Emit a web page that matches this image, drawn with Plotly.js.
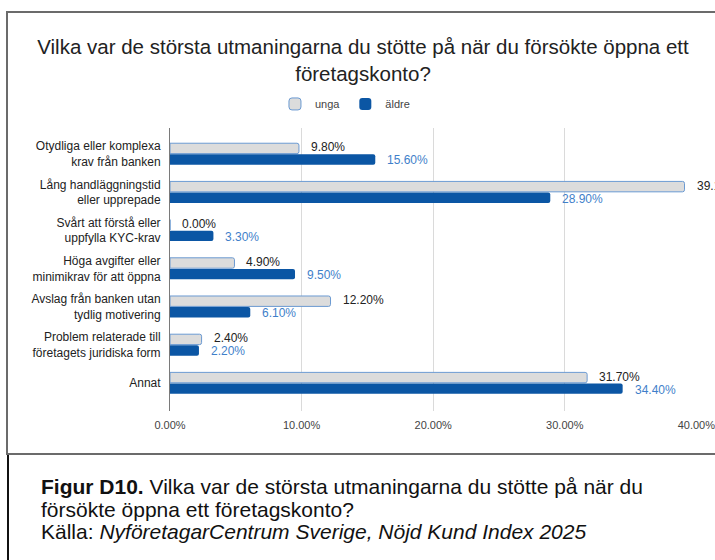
<!DOCTYPE html>
<html>
<head>
<meta charset="utf-8">
<script src="https://cdn.plot.ly/plotly-3.0.1.min.js"></script>
<style>
    html, body {
        margin: 0;
        padding: 0;
        width: 715px;
        height: 560px;
        overflow: hidden;
        background: #fff;
        font-family: "Liberation Sans", Arial, sans-serif;
    }
    #box {
        position: absolute;
        left: 6px;
        top: 11px;
        width: 720px;
        height: 440px;
        border-left: 2px solid #6b6b6b;
        border-top: 2px solid #6b6b6b;
        border-bottom: 2px solid #6b6b6b;
    }
    #graph {
        width: 710px;
        height: 440px;
    }
    #caption {
        position: absolute;
        left: 7px;
        top: 455px;
        width: 720px;
        height: 110px;
        border-left: 2px solid #111;
    }
    #caption p {
        margin: 0;
        position: absolute;
        left: 32px;
        top: 21px;
        font-size: 21px;
        line-height: 22.5px;
        color: #111;
        width: 670px;
    }
</style>
</head>
<body>
<div id="box"><div id="graph"></div></div>
<div id="caption">
    <p><b>Figur D10.</b> Vilka var de största utmaningarna du stötte på när du<br>
    försökte öppna ett företagskonto?<br>
    Källa: <i>NyföretagarCentrum Sverige, Nöjd Kund Index 2025</i></p>
</div>
<script>
// Kategorier och värden (andel)
const categories = [
    'Otydliga eller komplexa<br>krav från banken',
    'Lång handläggningstid<br>eller upprepade',
    'Svårt att förstå eller<br>uppfylla KYC-krav',
    'Höga avgifter eller<br>minimikrav för att öppna',
    'Avslag från banken utan<br>tydlig motivering',
    'Problem relaterade till<br>företagets juridiska form',
    'Annat'
];
const ungaValues = [0.098, 0.391, 0.000, 0.049, 0.122, 0.024, 0.317];
const aldreValues = [0.156, 0.289, 0.033, 0.095, 0.061, 0.022, 0.344];
const xTicks = [0, 0.1, 0.2, 0.3, 0.4];

const FONT = '"Liberation Sans", Arial, sans-serif';

const traces = [
    {
        type: 'bar',
        orientation: 'h',
        name: 'unga',
        x: ungaValues,
        y: categories,
        marker: { color: '#dcdcdc', line: { color: '#6b9ad2', width: 1 }, cornerradius: 2 },
        hoverinfo: 'skip'
    },
    {
        type: 'bar',
        orientation: 'h',
        name: 'äldre',
        x: aldreValues,
        y: categories,
        marker: { color: '#0b56a4', line: { color: '#0b56a4', width: 0 }, cornerradius: 2 },
        hoverinfo: 'skip'
    }
];

// Etiketter till höger om staplarna
const annotations = [];
categories.forEach((c, i) => {
    annotations.push({
        x: ungaValues[i], y: c, xref: 'x', yref: 'y',
        text: (ungaValues[i] * 100).toFixed(2) + '%',
        showarrow: false, xanchor: 'left', yanchor: 'middle',
        xshift: 10, yshift: 6.5,
        font: { family: FONT, size: 12, color: '#222' }
    });
    annotations.push({
        x: aldreValues[i], y: c, xref: 'x', yref: 'y',
        text: (aldreValues[i] * 100).toFixed(2) + '%',
        showarrow: false, xanchor: 'left', yanchor: 'middle',
        xshift: 10, yshift: -6.5,
        font: { family: FONT, size: 12, color: '#3f7fca' }
    });
});

const layout = {
    width: 710,
    height: 440,
    margin: { l: 162, r: 21, t: 115, b: 42 },
    paper_bgcolor: '#fff',
    plot_bgcolor: '#fff',
    font: { family: FONT, size: 12, color: '#222' },
    title: {
        text: 'Vilka var de största utmaningarna du stötte på när du försökte öppna ett<br>företagskonto?',
        x: 0.5, xref: 'container', xanchor: 'center',
        y: 0.907, yref: 'container', yanchor: 'top',
        font: { family: FONT, size: 20.5, color: '#222' }
    },
    barmode: 'group',
    bargap: 0.42,
    bargroupgap: 0.06,
    showlegend: true,
    legend: {
        orientation: 'h',
        x: 0.332, xanchor: 'center',
        y: 1.085, yanchor: 'middle',
        font: { family: FONT, size: 11, color: '#444' },
        itemwidth: 30,
        traceorder: 'normal'
    },
    xaxis: {
        range: [0, 0.4005],
        tickvals: xTicks,
        tickformat: '.2%',
        showgrid: true,
        gridcolor: '#dadada',
        gridwidth: 1,
        zeroline: false,
        ticks: '',
        ticklabelstandoff: 6,
        tickfont: { family: FONT, size: 11, color: '#444' },
        fixedrange: true
    },
    yaxis: {
        type: 'category',
        range: [6.73, -0.68],
        showline: true,
        linecolor: '#7a7a7a',
        linewidth: 1,
        showgrid: false,
        ticks: '',
        ticklabelstandoff: 6,
        tickfont: { family: FONT, size: 12, color: '#222' },
        fixedrange: true
    },
    annotations: annotations
};

Plotly.newPlot('graph', traces, layout, { displayModeBar: false, staticPlot: true });
</script>
</body>
</html>
